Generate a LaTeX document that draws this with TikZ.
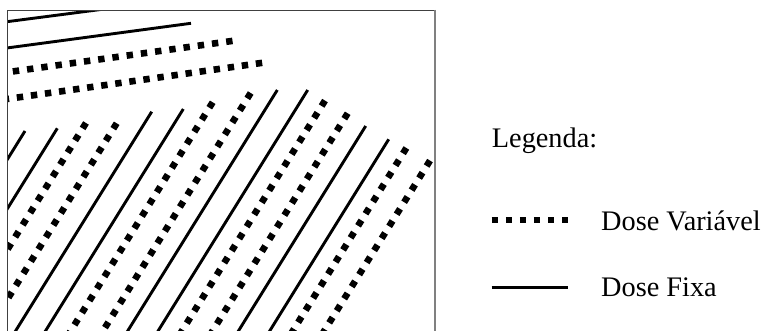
\documentclass[tikz,border=0pt]{standalone}
\usepackage{fontspec}
\setmainfont{Liberation Serif}
\begin{document}
\begin{tikzpicture}[x=1pt,y=-1pt,
  solidln/.style={line width=2.9pt,black},
  dotln/.style={line width=6.6pt,black,dash pattern=on 6.4pt off 7.8pt},
  legtext/.style={anchor=base west,inner sep=0pt,font=\fontsize{28.3}{34}\selectfont}]
\useasboundingbox (0,0) rectangle (768,331);
\fill[white] (0,0) rectangle (768,331);
\begin{scope}
  \clip (7.5,10.5) rectangle (434,331);
  % nearly horizontal passes (top)
  \draw[solidln] (0,22.6) -- (110,8.3);
  \draw[solidln] (0,48.9) -- (191,23.3);
  \draw[dotln,dash pattern=on 6.4pt off 7.96pt] (12.83,71.44) -- (232.5,40.9);
  \draw[dotln] (262.17,62.85) -- (0,100);
  % diagonal passes
  \foreach \x/\y in {25/131,57.3/128.3,151.7/111.7,183.3/109,277.3/90,307.7/90,365.7/126,388.7/139.3}
    \draw[solidln] (\x,\y) -- ++(-211,339.8);
  \foreach \x/\y in {84.3/125.7,115/126,211/105,249/95.7,323.3/103.3,346/116,404.7/150.7,428.3/163.3}
    \draw[dotln] ({\x+1.69},{\y-2.72}) -- ++(-211,339.8);
\end{scope}
% frame
\draw[line width=1pt,black!75] (7.5,331) -- (7.5,10.5) -- (435,10.5);
\draw[line width=2pt,black!50] (435,10) -- (435,331);
% legend
\node[legtext] (leg) at (491.7,147.3) {Legenda:};
\coordinate (dv1) at (491.7,220);
\coordinate (dv2) at (568.3,220);
\draw[dotln,line width=6.2pt,dash pattern=on 6.2pt off 7.88pt] (dv1) -- (dv2);
\node[legtext] (dvt) at (601,230) {Dose Variável};
\coordinate (df1) at (491.7,287.7);
\coordinate (df2) at (568.3,287.7);
\draw[line width=3.2pt] (df1) -- (df2);
\node[legtext] (dft) at (601,296.7) {Dose Fixa};
\end{tikzpicture}
\end{document}
